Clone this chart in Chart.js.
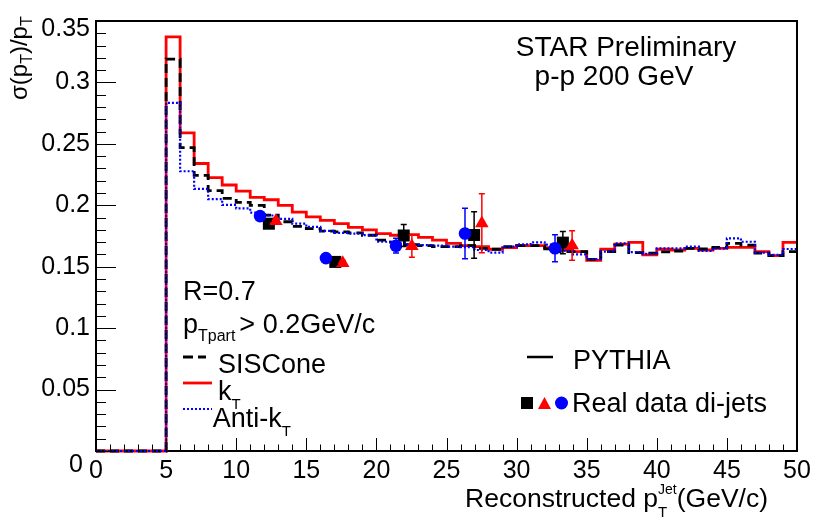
<!DOCTYPE html>
<html><head><meta charset="utf-8">
<script src="https://cdn.jsdelivr.net/npm/chart.js@4.4.1/dist/chart.umd.min.js"></script>
<style>html,body{margin:0;padding:0;background:#fff;}#wrap{width:830px;height:523px;}</style>
</head><body><div id="wrap"><canvas id="c" width="830" height="523"></canvas></div>
<script>
// ---- data ----
const binEdges = [0,1,2,3,4,5,6,7,8,9,10,11,12,13,14,15,16,17,18,19,20,21,22,23,24,25,26,27,28,29,30,31,32,33,34,35,36,37,38,39,40,41,42,43,44,45,46,47,48,49,50];
const kT = [0,0,0,0,0,0.337,0.259,0.234,0.2225,0.2165,0.2115,0.2065,0.2045,0.200,0.1945,0.1905,0.1877,0.185,0.182,0.180,0.177,0.1756,0.1762,0.1738,0.1716,0.169,0.1671,0.1663,0.1642,0.1655,0.1671,0.1671,0.1655,0.1636,0.1623,0.1551,0.1642,0.1684,0.1698,0.1596,0.1642,0.1636,0.165,0.1636,0.165,0.1658,0.1658,0.1623,0.1591,0.1698];
const sisCone = [0,0,0,0,0,0.319,0.247,0.2243,0.212,0.2056,0.2024,0.200,0.192,0.1866,0.1829,0.181,0.179,0.1784,0.1776,0.1756,0.1716,0.170,0.168,0.1671,0.1663,0.1663,0.1671,0.165,0.1642,0.1663,0.1671,0.1671,0.1645,0.1623,0.1623,0.156,0.1623,0.1676,0.1615,0.161,0.162,0.1628,0.165,0.1644,0.1658,0.169,0.1676,0.161,0.1591,0.1623];
const antiKt = [0,0,0,0,0,0.2833,0.2277,0.2133,0.205,0.2003,0.1975,0.194,0.1917,0.189,0.185,0.1824,0.1792,0.1776,0.177,0.1757,0.1703,0.169,0.168,0.1676,0.1671,0.1663,0.166,0.1636,0.1615,0.1663,0.1682,0.1698,0.168,0.163,0.160,0.1562,0.1623,0.169,0.1618,0.1604,0.165,0.165,0.1663,0.1628,0.165,0.173,0.1703,0.1615,0.1596,0.1644];

const sqX = [12.33, 17.07, 21.95, 26.97, 33.3];
const sqY = [0.185, 0.1539, 0.1754, 0.1758, 0.1696];
const sqErr = [0.002, 0.002, 0.009, 0.019, 0.009];
const triX = [12.83, 17.6, 22.53, 27.52, 33.96];
const triY = [0.1872, 0.153, 0.1668, 0.1853, 0.1673];
const triErr = [0.002, 0.002, 0.009, 0.024, 0.012];
const circX = [11.70, 16.4, 21.4, 26.32, 32.74];
const circY = [0.1912, 0.157, 0.1671, 0.177, 0.165];
const circErr = [0.002, 0.002, 0.006, 0.0205, 0.011];

const xTickLabels = ['0','5','10','15','20','25','30','35','40','45','50'];
const yTickLabels = ['0','0.05','0.1','0.15','0.2','0.25','0.3','0.35'];

// ---- build ----
const FF = "'Liberation Sans', Arial, Helvetica, sans-serif";
Chart.defaults.font.family = FF;
Chart.defaults.color = '#000';

const histData = vals => binEdges.map((x, i) => ({x: x, y: vals[Math.min(i, vals.length - 1)]}));
const ptsData = (xs, ys) => xs.map((x, i) => ({x: x, y: ys[i]}));

function rich(ctx, x, y, parts) {
  let cx = x;
  for (const p of parts) {
    ctx.font = p[1] + 'px ' + FF;
    ctx.fillText(p[0], cx, y + (p[2] || 0));
    if (!p[3]) cx += ctx.measureText(p[0]).width;
  }
  return cx;
}
function richWidth(ctx, parts) {
  let w = 0;
  for (const p of parts) { ctx.font = p[1] + 'px ' + FF; if (!p[3]) w += ctx.measureText(p[0]).width; }
  return w;
}

const deco = {
  id: 'deco',
  afterDatasetsDraw(chart) {
    const ctx = chart.ctx, xs = chart.scales.x, ys = chart.scales.y;
    const sets = [[sqX, sqY, sqErr, '#000'], [triX, triY, triErr, '#ff0000'], [circX, circY, circErr, '#0000ff']];
    ctx.save();
    ctx.lineWidth = 1.5;
    for (const [X, Y, E, col] of sets) {
      ctx.strokeStyle = col;
      for (let i = 0; i < X.length; i++) {
        const px = xs.getPixelForValue(X[i]);
        const y1 = ys.getPixelForValue(Y[i] + E[i]);
        const y2 = ys.getPixelForValue(Y[i] - E[i]);
        ctx.beginPath();
        ctx.moveTo(px, y1); ctx.lineTo(px, y2);
        ctx.moveTo(px - 3, y1); ctx.lineTo(px + 3, y1);
        ctx.moveTo(px - 3, y2); ctx.lineTo(px + 3, y2);
        ctx.stroke();
      }
    }
    ctx.restore();
  },
  afterDraw(chart) {
    const ctx = chart.ctx, xs = chart.scales.x, ys = chart.scales.y, a = chart.chartArea;
    ctx.save();
    // frame top/right
    ctx.strokeStyle = '#000'; ctx.lineWidth = 2;
    ctx.beginPath();
    ctx.moveTo(a.left, a.top); ctx.lineTo(a.right, a.top); ctx.lineTo(a.right, a.bottom);
    ctx.stroke();
    // ticks inward
    ctx.lineWidth = 1;
    ctx.beginPath();
    for (let k = 0; k <= 50; k++) {
      const px = Math.round(xs.getPixelForValue(k)) + 0.5;
      const len = (k % 5 === 0) ? 13 : 6.5;
      ctx.moveTo(px, a.bottom); ctx.lineTo(px, a.bottom - len);
    }
    for (let k = 0; k <= 35; k++) {
      const py = Math.round(ys.getPixelForValue(k / 100)) + 0.5;
      const len = (k % 5 === 0) ? 20 : 10;
      ctx.moveTo(a.left, py); ctx.lineTo(a.left + len, py);
    }
    ctx.stroke();
    ctx.fillStyle = '#000';
    // shifted y labels (first and last)
    ctx.font = '25px ' + FF;
    ctx.textAlign = 'right'; ctx.textBaseline = 'middle';
    ctx.fillText(yTickLabels[yTickLabels.length - 1], 90, ys.getPixelForValue(0.35) + 8);
    ctx.fillText(yTickLabels[0], 83, ys.getPixelForValue(0) + 14);
    ctx.textAlign = 'left'; ctx.textBaseline = 'alphabetic';
    // x title
    const xt = [['Reconstructed p', 26.5], ['T', 15, 10, true], ['Jet', 14, -13], ['(GeV/c)', 26.5]];
    const w = richWidth(ctx, xt);
    rich(ctx, 768 - w, 507, xt);
    // y title
    ctx.save();
    ctx.translate(27, 100);
    ctx.rotate(-Math.PI / 2);
    rich(ctx, 0, 0, [['\u03c3(p', 24], ['T', 16, 5], [')/p', 24], ['T', 16, 5]]);
    ctx.restore();
    // header
    ctx.font = '28px ' + FF;
    ctx.textAlign = 'center';
    ctx.fillText('STAR Preliminary', 626, 56);
    ctx.fillText('p-p 200 GeV', 614, 85);
    ctx.textAlign = 'left';
    // left legend
    ctx.font = '27px ' + FF;
    ctx.fillText('R=0.7', 183, 300);
    const e1 = rich(ctx, 183, 333, [['p', 27], ['Tpart', 16, 8]]);
    rich(ctx, e1 + 4, 333, [['> 0.2GeV/c', 27]]);
    ctx.font = '27px ' + FF;
    ctx.fillText('SISCone', 218, 373);
    rich(ctx, 218, 400, [['k', 27], ['T', 15, 9]]);
    rich(ctx, 212.7, 426.7, [['Anti-k', 27], ['T', 15, 9]]);
    ctx.lineWidth = 2.8;
    ctx.strokeStyle = '#000'; ctx.setLineDash([10, 5]);
    ctx.beginPath(); ctx.moveTo(183, 357); ctx.lineTo(206, 357); ctx.stroke();
    ctx.setLineDash([]); ctx.strokeStyle = '#ff0000';
    ctx.beginPath(); ctx.moveTo(183, 383); ctx.lineTo(212, 383); ctx.stroke();
    ctx.lineWidth = 2.2; ctx.strokeStyle = '#0000ff'; ctx.setLineDash([2, 2]);
    ctx.beginPath(); ctx.moveTo(183, 409); ctx.lineTo(212, 409); ctx.stroke();
    ctx.setLineDash([]);
    // right legend
    ctx.lineWidth = 2.5; ctx.strokeStyle = '#000';
    ctx.beginPath(); ctx.moveTo(527, 357); ctx.lineTo(553, 357); ctx.stroke();
    ctx.font = '27px ' + FF;
    ctx.fillText('PYTHIA', 573, 369);
    ctx.fillStyle = '#000'; ctx.fillRect(521, 397, 12, 12);
    ctx.fillStyle = '#ff0000';
    ctx.beginPath(); ctx.moveTo(544.5, 397); ctx.lineTo(551, 409); ctx.lineTo(538, 409); ctx.closePath(); ctx.fill();
    ctx.fillStyle = '#0000ff';
    ctx.beginPath(); ctx.arc(561.5, 403, 6.5, 0, Math.PI * 2); ctx.fill();
    ctx.fillStyle = '#000';
    ctx.fillText('Real data di-jets', 572, 412);
    ctx.restore();
  }
};

new Chart(document.getElementById('c'), {
  type: 'line',
  data: {
    datasets: [
      {label: 'kT', data: histData(kT), borderColor: '#ff0000', borderWidth: 2.8, stepped: 'before', pointRadius: 0, fill: false, order: 5, clip: false},
      {label: 'SISCone', data: histData(sisCone), borderColor: '#000000', borderWidth: 2.8, borderDash: [9, 5], stepped: 'before', pointRadius: 0, fill: false, order: 4, clip: false},
      {label: 'Anti-kT', data: histData(antiKt), borderColor: '#0000ff', borderWidth: 2.2, borderDash: [2, 2], stepped: 'before', pointRadius: 0, fill: false, order: 3, clip: false},
      {type: 'scatter', label: 'data sq', data: ptsData(sqX, sqY), pointStyle: 'rect', pointRadius: 8.5, backgroundColor: '#000', borderWidth: 0, order: 2},
      {type: 'scatter', label: 'data tri', data: ptsData(triX, triY), pointStyle: 'triangle', pointRadius: 7.8, backgroundColor: '#ff0000', borderWidth: 0, order: 1},
      {type: 'scatter', label: 'data circ', data: ptsData(circX, circY), pointStyle: 'circle', pointRadius: 6.3, backgroundColor: '#0000ff', borderWidth: 0, order: 0}
    ]
  },
  options: {
    responsive: false,
    animation: false,
    events: [],
    layout: {padding: {left: 0, right: 33, top: 14, bottom: 0}},
    plugins: {legend: {display: false}, tooltip: {enabled: false}},
    scales: {
      x: {
        type: 'linear', min: 0, max: 50,
        ticks: {stepSize: 5, autoSkip: false, maxRotation: 0, font: {size: 25}, padding: 5,
          callback: v => { const i = Math.round(v / 5); return (Math.abs(v - i * 5) < 1e-6 && xTickLabels[i] !== undefined) ? xTickLabels[i] : ''; }},
        grid: {display: false, drawTicks: false},
        border: {display: true, color: '#000', width: 2},
        afterFit: s => { s.height = 72; }
      },
      y: {
        type: 'linear', min: 0, max: 0.35,
        ticks: {stepSize: 0.05, autoSkip: false, font: {size: 25}, padding: 6,
          callback: v => { const i = Math.round(v / 0.05); if (i === 0 || i === yTickLabels.length - 1) return ''; return yTickLabels[i] !== undefined ? yTickLabels[i] : ''; }},
        grid: {display: false, drawTicks: false},
        border: {display: true, color: '#000', width: 2},
        afterFit: s => { s.width = 96; }
      }
    }
  },
  plugins: [deco]
});
</script>
</body></html>
